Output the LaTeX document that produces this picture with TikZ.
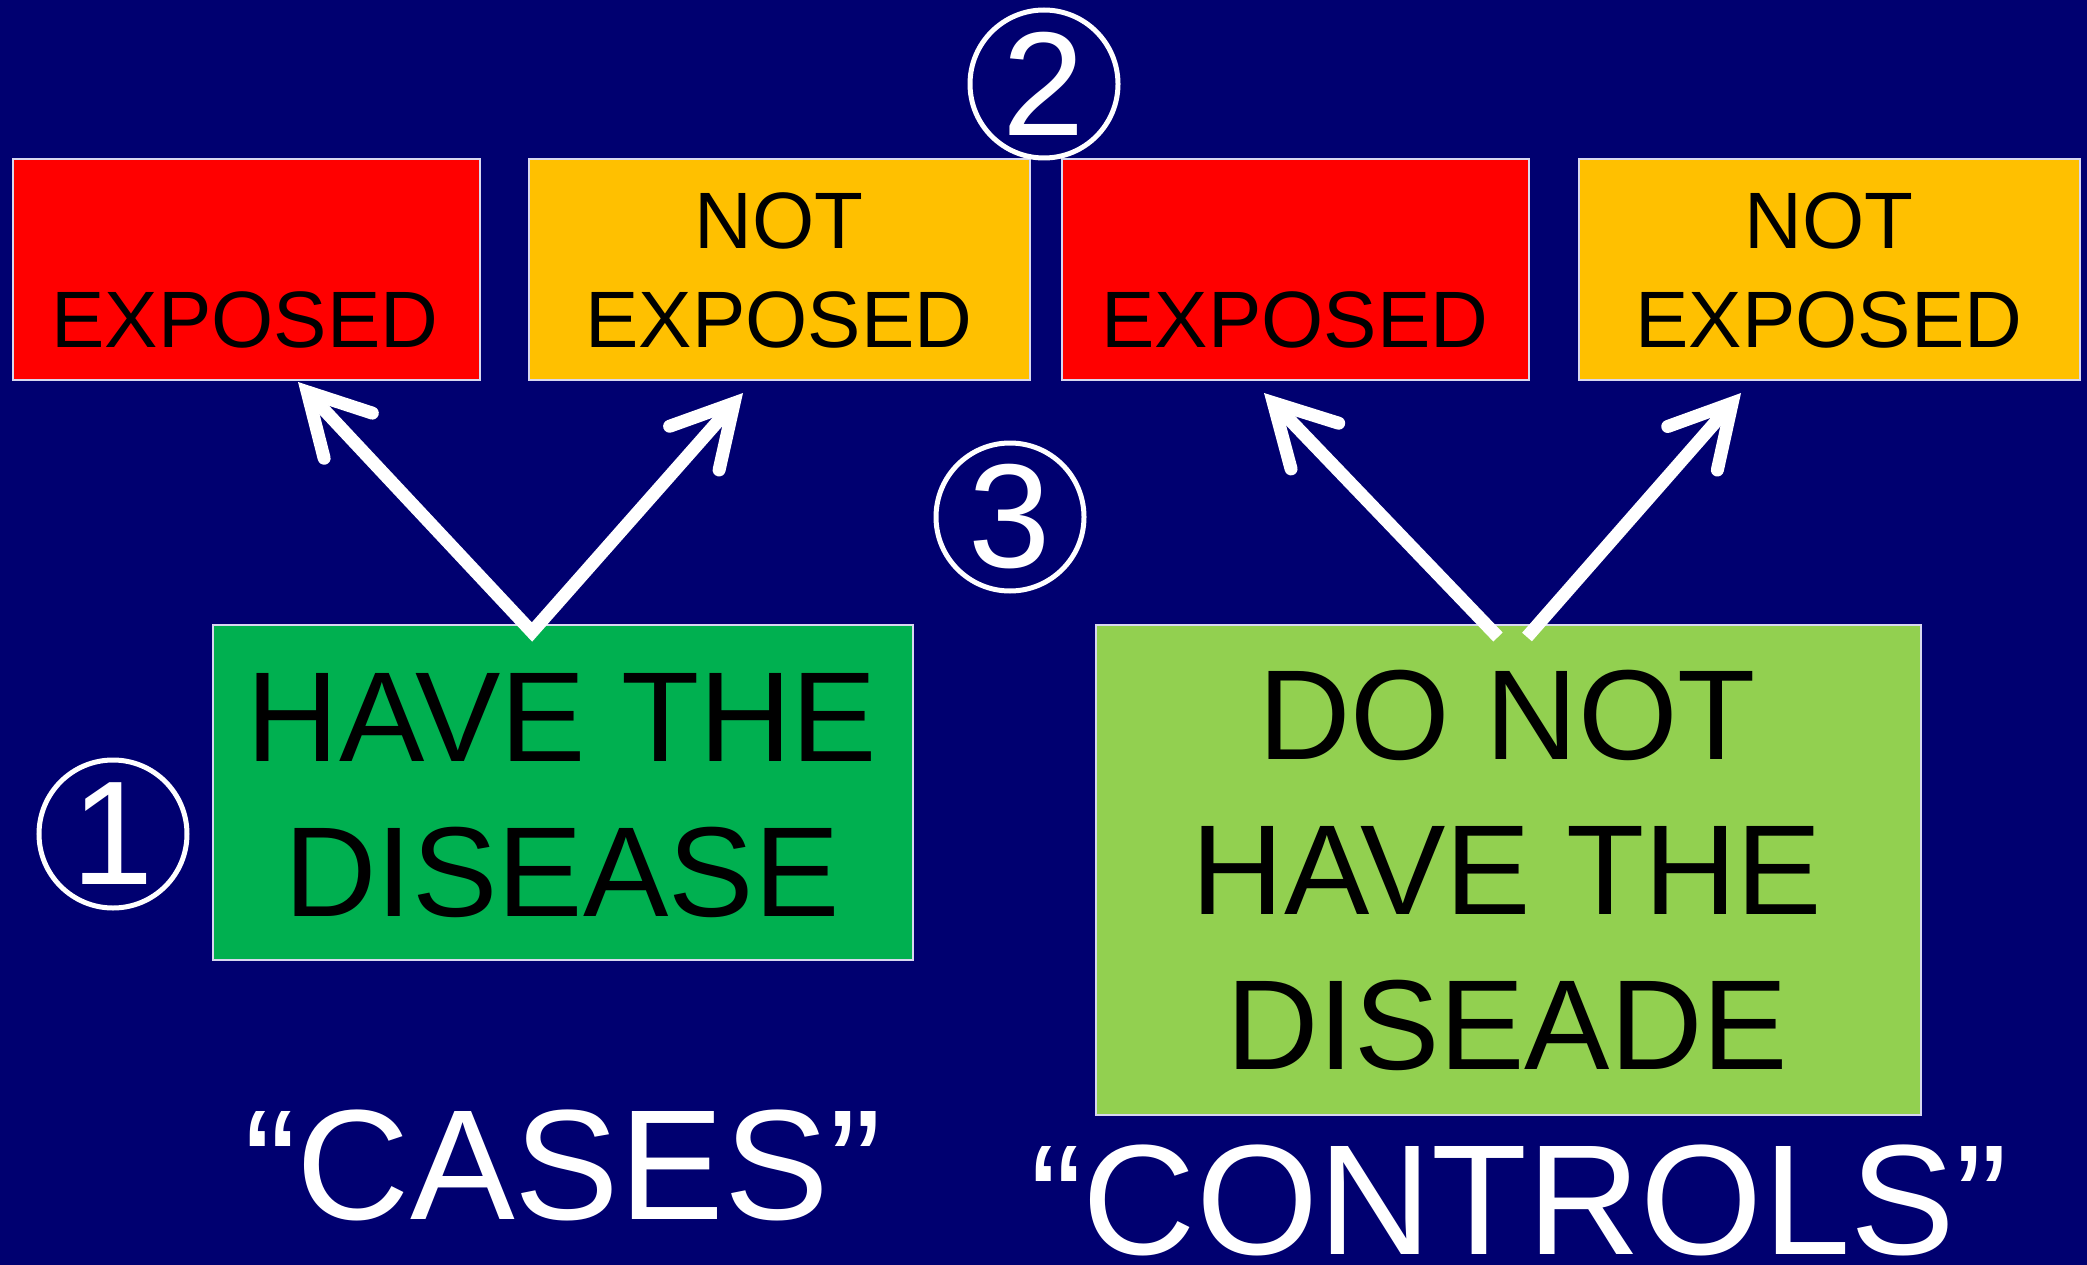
\documentclass[tikz,border=0pt]{standalone}
\usepackage{fontspec}
\setmainfont{Liberation Sans}
\usetikzlibrary{arrows.meta}
\definecolor{navybg}{RGB}{0,0,112}
\definecolor{exred}{RGB}{255,0,0}
\definecolor{exorange}{RGB}{255,192,0}
\definecolor{dgreen}{RGB}{0,176,80}
\definecolor{lgreen}{RGB}{146,208,80}
\definecolor{edgeline}{RGB}{215,215,240}
\begin{document}
\begin{tikzpicture}[x=1pt,y=-1pt,
  box/.style={rectangle, draw=edgeline, line width=2pt, inner sep=0pt, anchor=north west},
  small/.style={font=\fontsize{80}{99}\selectfont, text=black, align=center, anchor=base, inner sep=0pt},
  mid/.style={font=\fontsize{128}{155}\selectfont, text=black, align=center, anchor=base, inner sep=0pt},
  big/.style={font=\fontsize{157}{190}\selectfont, text=white, anchor=base, inner sep=0pt},
  num/.style={circle, draw=white, line width=5pt, minimum size=148pt, inner sep=0pt, text=white, font=\fontsize{148}{148}\selectfont},
  arr/.style={draw=white, line width=13pt, line join=miter},
  barb/.tip={Straight Barb[length=60pt, width=66pt, line cap=round, line join=miter]}
]
\fill[navybg] (0,0) rectangle (2087,1265);
\useasboundingbox (0,0) rectangle (2087,1265);

\node[box, fill=exred, minimum width=467pt, minimum height=221pt] (e1) at (12,158) {};
\node[box, fill=exorange, minimum width=501pt, minimum height=221pt] (n1) at (528,158) {};
\node[box, fill=exred, minimum width=467pt, minimum height=221pt] (e2) at (1061,158) {};
\node[box, fill=exorange, minimum width=501pt, minimum height=221pt] (n2) at (1578,158) {};
\node[box, fill=dgreen, minimum width=700pt, minimum height=335pt] (h) at (212,624) {};
\node[box, fill=lgreen, minimum width=825pt, minimum height=490pt] (d) at (1095,624) {};

\node[small] (e1t) at (245,347) {EXPOSED};
\node[small] (n1t) at (779,347) {NOT\\EXPOSED};
\node[small] (e2t) at (1295,347) {EXPOSED};
\node[small] (n2t) at (1829,347) {NOT\\EXPOSED};
\node[mid] (ht) at (562,916) {HAVE THE\\DISEASE};
\node[mid] (dt) at (1507,1069) {DO NOT\\HAVE THE\\DISEADE};
\node[big] (cases) at (563,1219) {“CASES”};
\node[big] (controls) at (1519,1254) {“CONTROLS”};

\node[num] (c1) at (113,834) {1};
\node[num] (c2) at (1044,84) {2};
\node[num] (c3) at (1010,517) {3};

\coordinate (t1) at (298,382);
\coordinate (a1) at (532,632);
\coordinate (t2) at (743,393);
\coordinate (s3) at (1498,637);
\coordinate (t3) at (1264,393);
\coordinate (s4) at (1527,637);
\coordinate (t4) at (1741,393);

\draw[arr, {barb}-{barb}] (t1) -- (a1) -- (t2);
\draw[arr, -{barb}] (s3) -- (t3);
\draw[arr, -{barb}] (s4) -- (t4);
\end{tikzpicture}
\end{document}
